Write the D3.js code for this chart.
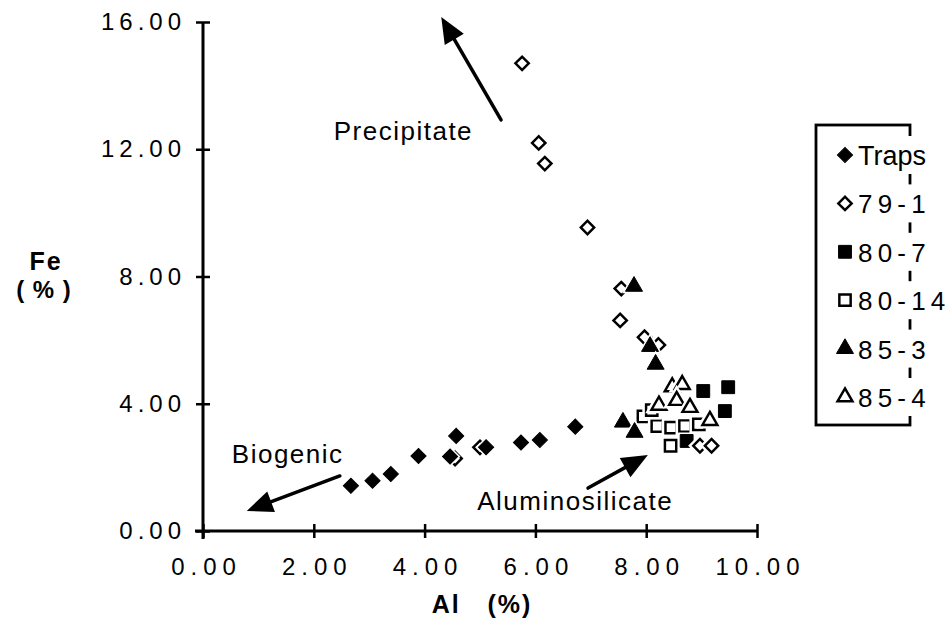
<!DOCTYPE html>
<html>
<head>
<meta charset="utf-8">
<script src="https://cdn.jsdelivr.net/npm/d3@7"></script>
<style>
  body { margin: 0; background: #fff; }
  svg text { font-family: "Liberation Sans", Arial, Helvetica, sans-serif; fill: #000; }
</style>
</head>
<body>
<svg width="952" height="618"></svg>
<script>
// [Al %, Fe %]
const traps = [[2.67,1.42],[3.06,1.58],[3.39,1.79],[3.89,2.36],[4.46,2.34],[4.57,2.99],[5.11,2.63],[5.74,2.78],[6.08,2.86],[6.72,3.28]]
const s79_1 = [[5.76,14.7],[6.06,12.2],[6.17,11.55],[6.94,9.54],[7.55,7.62],[7.53,6.62],[7.97,6.09],[8.22,5.85],[4.55,2.28],[5.0,2.63],[8.97,2.68],[9.18,2.68]]
const s80_7 = [[9.03,4.40],[9.48,4.52],[9.42,3.77],[8.73,2.83]]
const s80_14 = [[8.44,2.68],[7.95,3.6],[8.2,3.3],[8.45,3.25],[8.7,3.3],[8.95,3.35],[8.1,3.8]]
const s85_3 = [[7.78,7.69],[8.07,5.80],[8.17,5.24],[7.58,3.42],[7.79,3.10]]
const s85_4 = [[8.47,4.53],[8.65,4.6],[8.23,3.95],[8.55,4.1],[8.79,3.88],[9.15,3.47]]

const legendNames = ["Traps","79-1","80-7","80-14","85-3","85-4"]
const xTicks = [0,2,4,6,8,10]
const yTicks = [0,4,8,12,16]

// annotation arrows: [label, tail, tip, label position] in data units
const arrows = [
  ["Precipitate", [5.38,12.92], [4.30,16.16], [2.36,12.3]],
  ["Biogenic", [2.47,1.73], [0.79,0.63], [0.52,2.14]],
  ["Aluminosilicate", [6.95,1.35], [8.03,2.39], [4.95,0.66]]
]

const svg = d3.select("svg")
const x = d3.scaleLinear().domain([0,10]).range([203,757])
const y = d3.scaleLinear().domain([0,16]).range([531,22])
const fmt = d3.format(".2f")

// x axis
const gx = svg.append("g").attr("transform", `translate(0,${y(0)})`)
  .call(d3.axisBottom(x).tickValues(xTicks).tickFormat(fmt).tickSizeOuter(0))
gx.select(".domain").attr("d", `M${x(0)-8},0H${x(10)}`).attr("stroke-width", 3)
gx.selectAll(".tick line").attr("y1", -7).attr("y2", 7).attr("stroke-width", 2.5)
gx.selectAll(".tick text").attr("y", 44).attr("dy", null)
  .attr("dx", 3).style("font-size", "24px").style("letter-spacing", "6px")

// y axis
const gy = svg.append("g").attr("transform", `translate(${x(0)},0)`)
  .call(d3.axisLeft(y).tickValues(yTicks).tickFormat(fmt).tickSizeOuter(0))
gy.select(".domain").attr("d", `M0,${y(16)}V${y(0)+8}`).attr("stroke-width", 3)
gy.selectAll(".tick line").attr("x1", -7).attr("x2", 7).attr("stroke-width", 2.5)
gy.selectAll(".tick text").attr("x", -17).style("font-size", "24px").style("letter-spacing", "5px")

// axis titles
svg.append("text").attr("x", 482).attr("y", 613).attr("text-anchor", "middle")
  .style("font-size", "25px").style("font-weight", "bold").style("letter-spacing", "2px")
  .style("white-space", "pre").text("Al   (%)")
svg.append("text").attr("x", 46).attr("y", 270).attr("text-anchor", "middle")
  .style("font-size", "25px").style("font-weight", "bold").style("letter-spacing", "2px").text("Fe")
svg.append("text").attr("x", 44).attr("y", 298).attr("text-anchor", "middle")
  .style("font-size", "24px").style("font-weight", "bold").style("letter-spacing", "1px")
  .style("white-space", "pre").text("( % )")

// arrows
arrows.forEach(([label, tail, tip, lp]) => {
  const x0 = x(tail[0]), y0 = y(tail[1]), x1 = x(tip[0]), y1 = y(tip[1])
  const len = Math.hypot(x1-x0, y1-y0), ux = (x1-x0)/len, uy = (y1-y0)/len
  const bx = x1 - ux*26, by = y1 - uy*26
  svg.append("line").attr("x1", x0).attr("y1", y0).attr("x2", bx + ux*4).attr("y2", by + uy*4)
    .attr("stroke", "#000").attr("stroke-width", 3.5).attr("stroke-linecap", "round")
  svg.append("path")
    .attr("d", `M${x1},${y1}L${bx - uy*11},${by + ux*11}L${bx + uy*11},${by - ux*11}Z`)
    .attr("fill", "#000")
  svg.append("text").attr("x", x(lp[0])).attr("y", y(lp[1]))
    .style("font-size", "26px").style("letter-spacing", "1.5px").text(label)
})

// markers
const diamond = d3.symbol(d3.symbolSquare, 115)
const square = d3.symbol(d3.symbolSquare, 165)
const triangle = d3.symbol(d3.symbolTriangle, 125)
const styles = {
  "Traps": {shape: diamond, rot: 45, filled: true},
  "79-1": {shape: diamond, rot: 45, filled: false},
  "80-7": {shape: square, rot: 0, filled: true},
  "80-14": {shape: square, rot: 0, filled: false},
  "85-3": {shape: triangle, rot: 0, filled: true},
  "85-4": {shape: triangle, rot: 0, filled: false}
}
const seriesData = {"Traps": traps, "79-1": s79_1, "80-7": s80_7, "80-14": s80_14, "85-3": s85_3, "85-4": s85_4}
const drawOrder = ["80-14","80-7","85-4","79-1","85-3","Traps"]

function marker(g, name) {
  const st = styles[name]
  g.append("path").attr("d", st.shape()).attr("transform", `rotate(${st.rot})`)
    .attr("fill", "#fff").attr("stroke", "#fff").attr("stroke-width", st.filled ? 4 : 6)
  g.append("path").attr("d", st.shape())
    .attr("fill", st.filled ? "#000" : "#fff")
    .attr("stroke", "#000").attr("stroke-width", st.filled ? 1 : 2.8)
    .attr("transform", `rotate(${st.rot}) scale(${st.filled ? 1 : 0.88})`)
}

drawOrder.forEach(name => {
  svg.append("g").selectAll("g").data(seriesData[name]).join("g")
    .attr("transform", d => `translate(${x(d[0])},${y(d[1])})`)
    .each(function() { marker(d3.select(this), name) })
})

// legend
svg.append("rect").attr("x", 816).attr("y", 125).attr("width", 94).attr("height", 300)
  .attr("fill", "none").attr("stroke", "#000").attr("stroke-width", 2.8)
legendNames.forEach((name, i) => {
  const cy = 155 + i*48.4
  svg.append("rect").attr("x", 834).attr("y", cy - 19).attr("width", 118).attr("height", 38).attr("fill", "#fff")
  const g = svg.append("g").attr("transform", `translate(845,${cy})`)
  marker(g, name)
  svg.append("text").attr("x", 858).attr("y", cy + 10)
    .style("font-size", name === "Traps" ? "27px" : "26px")
    .style("letter-spacing", name === "Traps" ? "0px" : "5.2px").text(name)
})
</script>
</body>
</html>
